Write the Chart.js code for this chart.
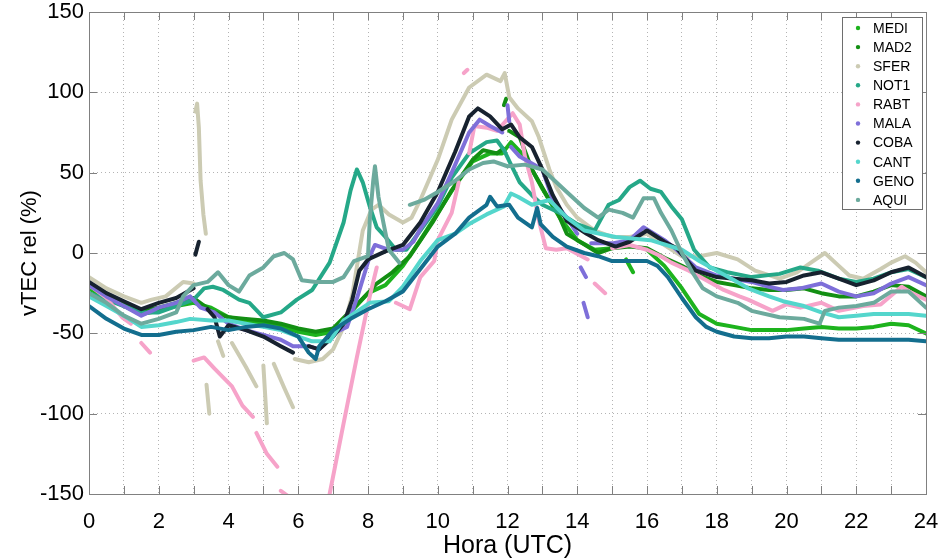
<!DOCTYPE html>
<html>
<head>
<meta charset="utf-8">
<title>vTEC rel (%)</title>
<script src="https://cdn.jsdelivr.net/npm/chart.js@4.4.1/dist/chart.umd.min.js"></script>
<style>
  html, body { margin: 0; padding: 0; background: #fff; }
  #wrap { width: 943px; height: 559px; }
</style>
</head>
<body>
<div id="wrap"><canvas id="vtecChart" width="943" height="559"></canvas></div>
<script>
// Station names and colours, in plotting order
const stations = ['MEDI', 'MAD2', 'SFER', 'NOT1', 'RABT', 'MALA', 'COBA', 'CANT', 'GENO', 'AQUI'];
const stationColors = ['#1db31d', '#138f13', '#cccbb3', '#25a888', '#f6a3c9', '#7e6fd9', '#17222f', '#54d6cc', '#136e8e', '#6caa9d'];

// [hour UTC, vTEC rel %] ; null breaks the trace
const MEDI = [[0,-22],[0.5,-28],[1,-33],[1.5,-38],[2,-36],[2.5,-33],[3,-31],[3.5,-34],[4,-40],[4.5,-42],[5,-44],[5.5,-46],[6,-49],[6.5,-51],[7,-49],[7.5,-37],[8,-25],[8.5,-20],[9,-8],[9.5,8],[10,25],[10.5,42],[11,57],[11.5,62],[11.85,62],[12.1,69],[12.5,60],[13,40],[13.5,22],[14,8],[14.5,2],[15,3],[15.3,null],[15.4,-4],[15.6,-12],[15.7,null],[16,2],[16.5,-8],[17,-22],[17.5,-38],[18,-44],[18.5,-46],[19,-48],[19.5,-48],[20,-48],[20.5,-47],[21,-46],[21.5,-47],[22,-47],[22.5,-46],[23,-44],[23.5,-45],[24,-50]];
const MAD2 = [[0,-20],[0.5,-26],[1,-31],[1.5,-36],[2,-34],[2.5,-31],[3,-28],[3.5,-36],[4,-40],[4.5,-41],[5,-42],[5.5,-44],[6,-47],[6.5,-49],[7,-47],[7.5,-36],[8,-25],[8.25,-19],[8.7,-12],[9.2,-2],[9.85,19],[10.4,39],[11,58],[11.3,64],[11.7,62],[11.88,65],[11.9,null],[11.9,92],[11.96,96],[11.98,null],[12.05,76],[12.35,72],[12.7,52],[13.2,33],[13.4,27],[13.7,12],[14,8],[14.6,0],[15,3],[15.5,4],[16,3],[16.5,-3],[17,-8],[17.5,-14],[18,-18],[18.5,-20],[19,-22],[19.5,-23],[20,-23],[20.5,-22],[21,-25],[21.5,-27],[22,-27],[22.5,-24],[23,-20],[23.5,-21],[24,-27]];
const SFER = [[0,-15],[0.5,-22],[1,-27],[1.5,-31],[1.8,-29],[2.2,-27],[2.7,-18],[3,-19],[3.02,null],[3.05,88],[3.1,93],[3.15,78],[3.2,45],[3.28,24],[3.35,12],[3.37,null],[3.37,-82],[3.45,-100],[3.5,null],[3.7,-55],[3.85,-64],[3.95,null],[4.1,-56],[4.5,-71],[4.8,-83],[4.9,null],[5,-70],[5.1,-106],[5.15,null],[5.3,-69],[5.6,-84],[5.85,-96],[5.9,null],[5.9,-66],[6.3,-68],[6.7,-66],[7,-60],[7.3,-46],[7.55,-26],[7.85,14],[8.1,27],[8.3,30],[8.6,24],[9,19],[9.25,22],[9.5,33],[10,58],[10.4,83],[10.9,103],[11.4,111],[11.8,107],[11.92,112],[12.05,97],[12.3,90],[12.7,82],[12.9,72],[13.2,52],[13.4,41],[13.7,30],[14,22],[14.5,14],[15,10],[15.5,10],[16,12],[16.5,5],[17,-2],[17.5,-2],[18,0],[18.6,-4],[19.1,-11],[19.8,-16],[20.3,-12],[20.7,-6],[21.1,0],[21.5,-8],[21.8,-14],[22.2,-16],[22.7,-10],[23,-6],[23.4,-2],[23.7,-6],[24,-12]];
const NOT1 = [[0,-25],[0.5,-29],[1,-33],[1.5,-37],[2,-37],[2.5,-33],[3,-29],[3.3,-22],[3.55,-21],[3.85,-23],[4.3,-29],[4.6,-31],[5,-40],[5.5,-37],[5.96,-29],[6.4,-23],[6.9,-6],[7.3,19],[7.5,39],[7.68,52],[7.85,44],[8.05,29],[8.25,16],[8.5,10],[8.8,2],[9.1,2],[9.5,14],[10,29],[10.4,47],[10.9,62],[11.4,69],[11.7,70],[11.9,64],[12.1,55],[12.35,44],[12.7,36],[13,30],[13.5,25],[14,18],[14.5,14],[14.9,30],[15.2,33],[15.5,41],[15.8,45],[16.1,40],[16.4,38],[16.7,29],[17,21],[17.35,2],[17.8,-9],[18.3,-12],[19,-15],[19.8,-13],[20.4,-9],[20.9,-11],[21.5,-16],[22,-18],[22.5,-16],[23,-12],[23.5,-10],[24,-15]];
const RABT = [[0,-20],[0.5,-28],[0.95,-40],[1.2,-44],[1.3,null],[1.5,-56],[1.75,-62],[1.8,null],[3,-67],[3.3,-65],[3.6,-72],[4.1,-83],[4.4,-95],[4.7,-102],[4.75,null],[4.8,-112],[5.1,-125],[5.4,-133],[5.45,null],[5.5,-148],[5.75,-152],[5.8,null],[6.9,-150],[7.3,-106],[7.68,-65],[8.05,-27],[8.25,-9],[8.3,null],[8.8,-31],[9.2,-35],[9.5,-15],[9.9,-5],[10,8],[10.4,25],[10.6,44],[10.7,null],[10.75,112],[10.85,114],[10.88,null],[10.9,62],[11.05,79],[11.4,78],[11.7,76],[12.15,87],[12.35,80],[12.5,60],[12.7,44],[12.9,20],[13.1,3],[13.4,2],[13.7,3],[14.3,-4],[14.35,null],[14.5,-19],[14.8,-25],[14.85,null],[15,3],[15.5,5],[16,2],[16.4,-2],[16.7,-6],[17.2,-11],[17.7,-17],[18.2,-23],[18.65,-27],[18.9,-29],[19.6,-36],[20,-32],[20.4,-34],[21,-31],[21.5,-36],[22.2,-33],[22.7,-32],[23.3,-21],[23.6,-25],[24,-29]];
const MALA = [[0,-20],[0.5,-27],[1,-33],[1.5,-39],[2,-34],[2.5,-31],[2.9,-27],[3.2,-34],[3.6,-37],[4,-44],[4.5,-48],[5,-51],[5.5,-54],[5.85,-58],[6.3,-58],[6.6,-60],[7,-50],[7.4,-46],[7.7,-27],[8.05,-2],[8.2,5],[8.6,2],[9,2],[9.3,7],[9.5,15],[10,31],[10.4,50],[10.9,75],[11.2,83],[11.5,79],[11.85,75],[11.95,null],[12,92],[12.05,82],[12.1,null],[12.1,66],[12.35,60],[13,52],[13.3,33],[13.7,22],[14,12],[14.05,null],[14.1,-9],[14.25,-15],[14.27,null],[14.18,-31],[14.3,-40],[14.35,null],[14.4,6],[15,6],[15.5,8],[15.9,16],[16.5,8],[16.85,2],[17.4,-9],[18,-14],[18.5,-16],[19,-18],[19.5,-21],[19.9,-23],[20.4,-22],[21,-19],[21.5,-24],[22,-27],[22.5,-25],[23,-19],[23.5,-15],[24,-20]];
const COBA = [[0,-18],[0.5,-25],[1,-30],[1.5,-35],[2,-31],[2.5,-28],[3,-22],[3.02,null],[3.05,-1],[3.15,7],[3.18,null],[3.4,-35],[3.6,-40],[3.75,-52],[4,-45],[4.5,-48],[5,-52],[5.5,-58],[5.85,-62],[6.1,null],[6.3,-58],[6.6,-60],[7,-52],[7.3,-44],[7.55,-29],[7.75,-11],[8,-4],[8.5,1],[9,5],[9.5,19],[10,38],[10.5,63],[10.9,85],[11.15,90],[11.5,85],[11.85,77],[12.1,80],[12.35,72],[12.7,66],[13,52],[13.3,36],[13.7,20],[14.27,12],[14.6,8],[15.1,4],[15.5,7],[16,14],[16.5,7],[16.85,3],[17.4,-11],[18,-15],[18.5,-16],[19,-17],[19.5,-19],[20,-18],[20.5,-14],[21,-12],[21.5,-16],[22,-20],[22.5,-17],[23,-12],[23.5,-9],[24,-15]];
const CANT = [[0,-27],[0.5,-33],[1,-39],[1.5,-46],[2,-45],[2.5,-43],[2.9,-41],[3.5,-42],[4,-42],[4.5,-44],[5,-46],[5.5,-48],[6,-52],[6.4,-55],[6.9,-55],[7.3,-42],[7.85,-34],[8.05,-31],[8.6,-30],[9,-21],[9.5,-5],[10,8],[10.5,12],[10.9,18],[11.4,24],[11.9,29],[12.1,37],[12.3,35],[12.7,30],[13.2,33],[13.7,22],[14.2,14],[15.1,10],[16.1,8],[17,2],[17.5,-5],[18,-11],[18.5,-17],[18.9,-22],[19.5,-27],[19.9,-30],[20.5,-33],[21,-37],[21.5,-40],[22,-39],[22.5,-38],[23,-38],[23.5,-38],[24,-39]];
const GENO = [[0,-33],[0.5,-41],[1,-47],[1.5,-51],[2,-51],[2.5,-49],[3,-48],[3.5,-46],[4,-48],[4.5,-46],[5,-45],[5.5,-47],[6,-52],[6.3,-62],[6.5,-66],[6.6,-58],[7,-48],[7.5,-41],[8,-35],[8.5,-30],[9,-24],[9.5,-10],[10,4],[10.5,12],[10.9,22],[11.4,30],[11.5,35],[11.7,29],[12.05,30],[12.3,22],[12.7,16],[12.85,28],[12.95,18],[13.3,10],[13.7,4],[14.2,0],[14.6,-2],[15,-5],[15.5,-5],[16,-5],[16.3,-8],[16.6,-15],[17,-28],[17.4,-40],[17.7,-46],[18,-49],[18.5,-52],[19,-53],[19.5,-53],[20,-52],[20.5,-52],[21,-53],[21.5,-54],[22,-54],[22.5,-54],[23,-54],[23.5,-54],[24,-55]];
const AQUI = [[0,-25],[0.5,-31],[1,-39],[1.5,-44],[2,-41],[2.5,-37],[2.7,-27],[3,-20],[3.4,-18],[3.7,-12],[4,-20],[4.3,-24],[4.6,-14],[5,-9],[5.3,-2],[5.6,0],[5.85,-4],[6.1,-17],[6.5,-18],[7,-18],[7.3,-15],[7.6,-5],[8,-2],[8.05,20],[8.15,45],[8.2,54],[8.3,35],[8.45,18],[8.6,2],[8.9,-6],[9,null],[9.2,30],[9.6,33],[10,38],[10.5,45],[10.9,52],[11.3,56],[11.6,57],[12,54],[12.5,55],[13,52],[13.3,46],[13.7,38],[14.2,28],[14.6,22],[14.9,27],[15.3,25],[15.6,22],[15.9,34],[16.2,34],[16.4,25],[16.7,14],[17,0],[17.3,-12],[17.6,-22],[18,-27],[18.6,-31],[19,-36],[19.8,-40],[20.5,-41],[20.95,-44],[21.1,-36],[21.5,-34],[22,-33],[22.5,-31],[23,-24],[23.5,-24],[24,-34]];

const series = [MEDI, MAD2, SFER, NOT1, RABT, MALA, COBA, CANT, GENO, AQUI];

// Axis ranges and labelled ticks
const hourMin = 0, hourMax = 24;
const vtecMin = -150, vtecMax = 150, vtecStep = 50;

const FONT = "'Liberation Sans', Arial, sans-serif";

// Box round the plot with inward ticks on all four sides
const framePlugin = {
  id: 'frame',
  afterDatasetsDraw(chart) {
    const { ctx, chartArea: a, scales } = chart;
    const tick = 8;
    ctx.save();
    ctx.strokeStyle = '#808080';
    ctx.lineWidth = 1;
    ctx.beginPath();
    scales.x.ticks.forEach(t => {
      const px = Math.round(scales.x.getPixelForValue(t.value)) + 0.5;
      ctx.moveTo(px, a.bottom); ctx.lineTo(px, a.bottom - tick);
      ctx.moveTo(px, a.top); ctx.lineTo(px, a.top + tick);
    });
    scales.y.ticks.forEach(t => {
      const py = Math.round(scales.y.getPixelForValue(t.value)) + 0.5;
      ctx.moveTo(a.left, py); ctx.lineTo(a.left + tick, py);
      ctx.moveTo(a.right, py); ctx.lineTo(a.right - tick, py);
    });
    ctx.stroke();
    ctx.strokeRect(Math.round(a.left) + 0.5, Math.round(a.top) + 0.5,
      Math.round(a.right - a.left), Math.round(a.bottom - a.top));
    ctx.restore();
  }
};

// Legend drawn inside the top-right corner of the plot
const insetLegend = {
  id: 'insetLegend',
  afterDraw(chart) {
    const { ctx, chartArea: a } = chart;
    const sets = chart.data.datasets;
    const w = 80, rowH = 19.1;
    const h = rowH * sets.length + 1;
    const x0 = a.right - w - 4, y0 = a.top + 5;
    ctx.save();
    ctx.fillStyle = '#fff';
    ctx.fillRect(x0, y0, w, h);
    ctx.strokeStyle = '#6e6e6e';
    ctx.lineWidth = 1;
    ctx.strokeRect(Math.round(x0) + 0.5, Math.round(y0) + 0.5, w, Math.round(h));
    ctx.font = '14px ' + FONT;
    ctx.textBaseline = 'middle';
    sets.forEach((ds, i) => {
      const cy = y0 + 11 + i * rowH;
      ctx.fillStyle = ds.borderColor;
      ctx.beginPath();
      ctx.arc(x0 + 16, cy, 2.2, 0, Math.PI * 2);
      ctx.fill();
      ctx.fillStyle = '#000';
      ctx.fillText(ds.label, x0 + 31, cy + 1);
    });
    ctx.restore();
  }
};

const datasets = series.map((pts, i) => ({
  label: stations[i],
  data: pts.map(([x, y]) => ({ x, y })),
  borderColor: stationColors[i],
  backgroundColor: stationColors[i],
  borderWidth: 4,
  pointRadius: 0,
  showLine: true,
  spanGaps: false,
  borderCapStyle: 'round',
  borderJoinStyle: 'round',
  order: series.length - 1 - i
}));

const ctx = document.getElementById('vtecChart').getContext('2d');
new Chart(ctx, {
  type: 'scatter',
  data: { datasets },
  options: {
    responsive: false,
    animation: false,
    layout: { padding: { top: 12, right: 17, left: 0, bottom: 0 } },
    plugins: {
      legend: { display: false },
      tooltip: { enabled: false }
    },
    scales: {
      x: {
        type: 'linear',
        min: hourMin,
        max: hourMax,
        afterFit(scale) {
          // fixed band under the plot, no extra room for end labels
          scale.height = 65;
          scale.paddingLeft = 0;
          scale.paddingRight = 0;
        },
        ticks: {
          stepSize: 1,
          autoSkip: false,
          maxRotation: 0,
          padding: 15,
          color: '#000',
          font: { family: FONT, size: 22 },
          callback: v => (v % 2 === 0 ? String(v) : '')
        },
        grid: { color: '#b4b4b4', lineWidth: 1, drawTicks: false },
        border: { display: false, dash: [1, 3] },
        title: {
          display: true,
          text: 'Hora (UTC)',
          color: '#000',
          font: { family: FONT, size: 25 },
          padding: { top: 0, bottom: -2 }
        }
      },
      y: {
        min: vtecMin,
        max: vtecMax,
        afterFit(scale) {
          scale.width = 89;
          scale.paddingTop = 0;
          scale.paddingBottom = 0;
        },
        ticks: {
          stepSize: vtecStep,
          padding: 5,
          color: '#000',
          font: { family: FONT, size: 22 }
        },
        grid: { color: '#b4b4b4', lineWidth: 1, drawTicks: false },
        border: { display: false, dash: [1, 3] },
        title: {
          display: true,
          text: 'vTEC rel (%)',
          color: '#000',
          font: { family: FONT, size: 22 },
          padding: { top: 17, bottom: 0 }
        }
      }
    }
  },
  plugins: [framePlugin, insetLegend]
});
</script>
</body>
</html>
